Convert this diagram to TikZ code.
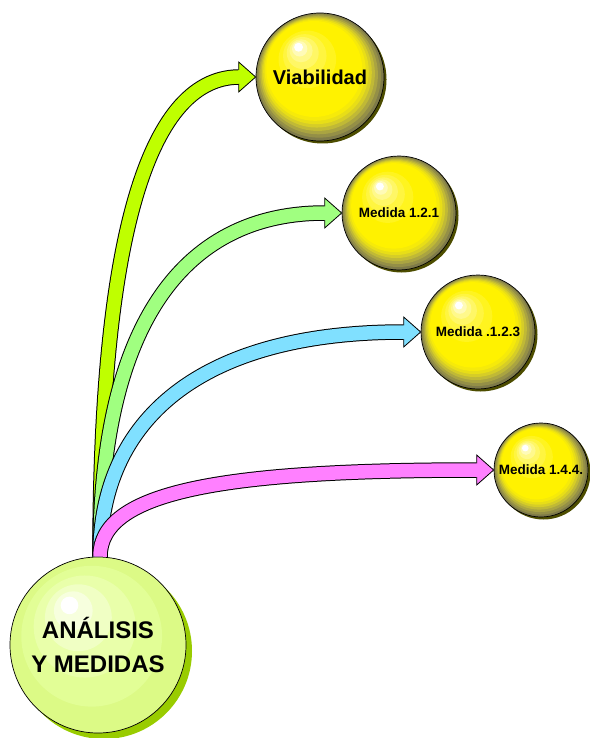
\documentclass[tikz,border=0pt]{standalone}
\usepackage{fontspec}
\setmainfont{Liberation Sans}
\usetikzlibrary{calc}
\definecolor{cA}{HTML}{BFFF00}
\definecolor{cB}{HTML}{A0FF80}
\definecolor{cC}{HTML}{80E0FF}
\definecolor{cD}{HTML}{FF80FF}
\definecolor{shad}{HTML}{4D4D00}
\definecolor{rshad}{HTML}{99CC00}
\definecolor{rA}{HTML}{DCFA86}
\definecolor{rB}{HTML}{E2FE96}
\definecolor{rC}{HTML}{E9FFAA}
\definecolor{rD}{HTML}{F0FFC4}
\definecolor{rE}{HTML}{F7FFDE}
\def\ylist{0/yellow!42!black, 0.035/yellow!52!black, 0.07/yellow!62!black, 0.105/yellow!72!black, 0.14/yellow!82!black, 0.175/yellow!90!black, 0.21/yellow!96!black, 0.25/yellow, 0.55/yellow!88!white, 0.66/yellow!75!white, 0.75/yellow!60!white, 0.82/yellow!45!white, 0.88/yellow!28!white, 0.93/white}
\def\rlist{0/rA, 0.2/rB, 0.42/rC, 0.62/rD, 0.78/rE, 0.9/white}
% #1 x, #2 y, #3 radius, #4 shadow colour, #5 shadow offset, #6 band list
\newcommand\spherebg[6]{%
  \fill[#4] ({#1+#5},{#2+#5}) circle[radius=#3];
  \foreach \t/\c in #6 {
    \fill[\c] ({#1-0.36*#3*\t},{#2-0.5*#3*\t}) circle[radius={#3*(1-\t)}];
  }
}
\tikzset{
  sphnode/.style={circle, draw=black, line width=0.7pt, minimum size=#1, inner sep=0pt},
  bandout/.style={line width=15.5pt, draw=black},
  bandin/.style={line width=13.5pt, draw=#1},
  headbox/.style={fill=#1, draw=black, line width=0.8pt, line join=miter}
}
\newcommand\bandarrow[4]{%
  \draw[bandout] ($(root.north)+(2,0)$) .. controls #2 and #3 .. ($(#4)+(-17,0)$);
  \draw[headbox=#1] ($(#4)+(-17,-15)$) -- (#4) -- ($(#4)+(-17,15)$) -- cycle;
  \draw[bandin=#1] ($(root.north)+(2,0)$) .. controls #2 and #3 .. ($(#4)+(-17,0)$) -- ++(2.5,0);
}
\begin{document}
\begin{tikzpicture}[x=1pt,y=-1pt]
\useasboundingbox (0,0) rectangle (589,738);
\spherebg{98}{645}{88}{rshad}{6}{\rlist}
\node[sphnode=176pt, align=center, font=\bfseries\fontsize{24}{34}\selectfont] (root) at (98,645) {ANÁLISIS\\Y MEDIDAS};
\spherebg{320}{77}{64}{shad}{2.5}{\ylist}
\node[sphnode=128pt, font=\bfseries\fontsize{20}{24}\selectfont] (via) at (320,77) {Viabilidad};
\spherebg{399}{213}{57}{shad}{2.5}{\ylist}
\node[sphnode=114pt, font=\bfseries\fontsize{13.5}{16}\selectfont] (m121) at (399,213) {Medida 1.2.1};
\spherebg{478}{332}{57}{shad}{2.5}{\ylist}
\node[sphnode=114pt, font=\bfseries\fontsize{13.5}{16}\selectfont] (m123) at (478,332) {Medida .1.2.3};
\spherebg{541}{470}{47}{shad}{2.5}{\ylist}
\node[sphnode=94pt, font=\bfseries\fontsize{13.5}{16}\selectfont] (m144) at (541,470) {Medida 1.4.4.};
\bandarrow{cA}{(100,250)}{(145,78)}{via.west}
\bandarrow{cB}{(100,330)}{(180,213)}{m121.west}
\bandarrow{cC}{(100,420)}{(200,332)}{m123.west}
\bandarrow{cD}{(100,492)}{(220,470)}{m144.west}
\end{tikzpicture}
\end{document}
